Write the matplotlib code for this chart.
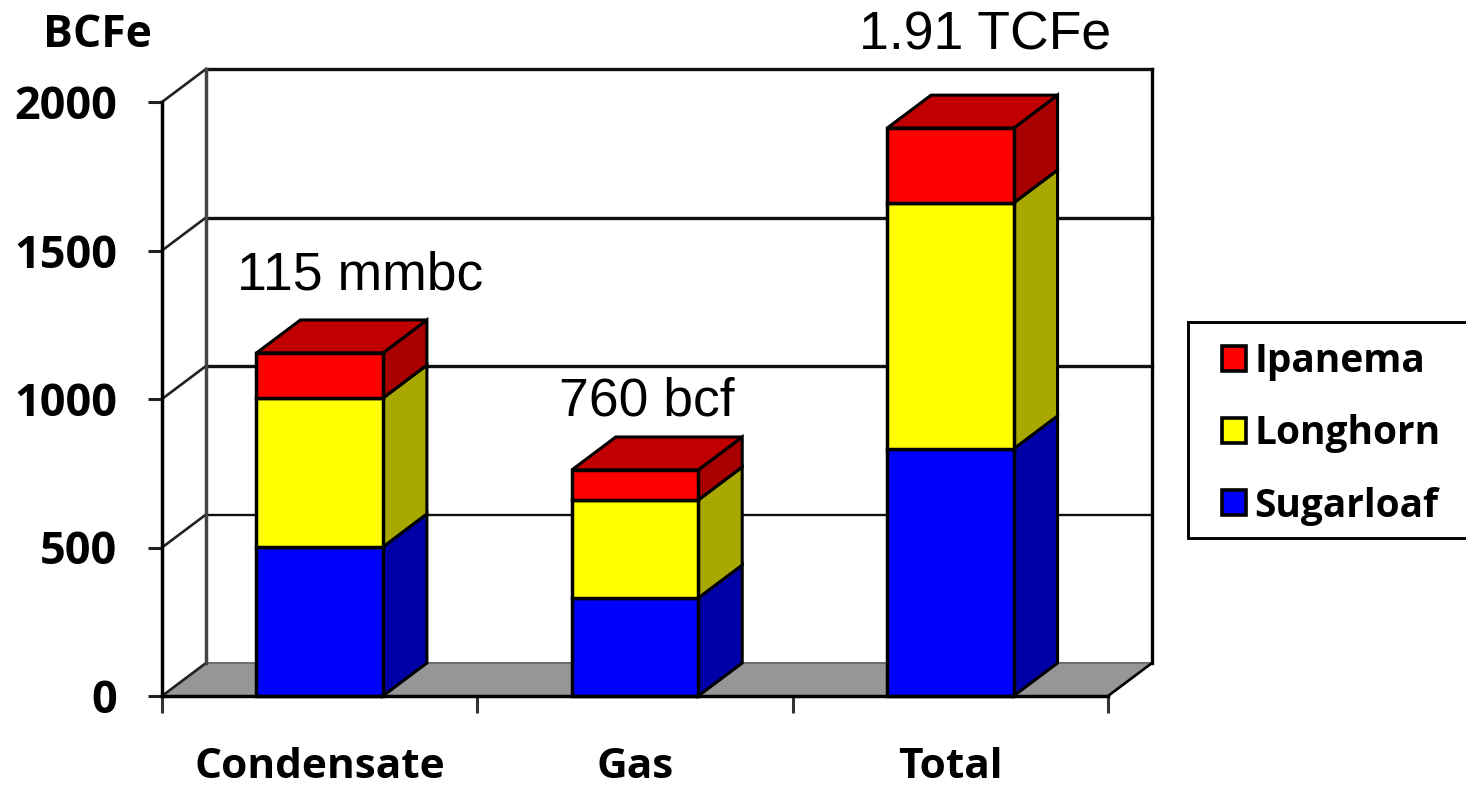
import numpy as np
import matplotlib
matplotlib.use('Agg')
import matplotlib.pyplot as plt
from matplotlib.patches import Polygon, Patch, Rectangle

categories = ['Condensate', 'Gas', 'Total']
sugarloaf = [502, 330, 832]
longhorn = [501, 330, 828]
ipanema = [152, 101, 252]
series_names = ['Sugarloaf', 'Longhorn', 'Ipanema']
yticks = [0, 500, 1000, 1500, 2000]
notes = ['115 mmbc', '760 bcf', '1.91 TCFe']

W, H = 1466, 786
BOLD = 'Open Sans'
front = ['#0000ff', '#ffff00', '#ff0000']
side = ['#0000a8', '#a8a800', '#a80000']
top_col = '#c00000'

# depth of the fake 3d box, in data units (44px across, 33px up)
dx = 44 / 315.33
dy = 33 / 0.297
bw = 0.401

fig = plt.figure(figsize=(W / 100, H / 100), dpi=100)
ax = fig.add_axes([162 / W, 1 - 696 / H, 946 / W, 594 / H])
ax.set_xlim(0, 3)
ax.set_ylim(0, 2000)
for s in ['top', 'right']:
    ax.spines[s].set_visible(False)
for s in ['left', 'bottom']:
    ax.spines[s].set_linewidth(2.5)
    ax.spines[s].set_zorder(6)

# floor and back wall
ax.add_patch(Polygon([(0, 0), (3, 0), (3 + dx, dy), (dx, dy)], closed=True, fc='#969696', ec='none', zorder=1, clip_on=False))
for v in yticks:
    if v == 0:
        ax.plot([dx, 3 + dx], [v + dy, v + dy], color='#6e6e6e', lw=1.5, zorder=2, clip_on=False)
    else:
        ax.plot([dx, 3 + dx], [v + dy, v + dy], color='#111111', lw=1.7 if v == 500 else 2.4, zorder=2, clip_on=False)
    ax.plot([0, dx], [v, v + dy], color='#222222', lw=1.9, zorder=2, clip_on=False)
ax.plot([dx, dx], [dy, 2000 + dy], color='#444444', lw=2.5, zorder=2, clip_on=False)
ax.plot([3 + dx, 3 + dx], [dy, 2000 + dy], color='black', lw=2.4, zorder=2, clip_on=False)
ax.plot([3, 3 + dx], [0, dy], color='black', lw=1.9, zorder=2, clip_on=False)

# bars
x = np.arange(3) + 0.5
bottom = np.zeros(3)
for k, vals in enumerate([sugarloaf, longhorn, ipanema]):
    vals = np.array(vals)
    ax.bar(x, vals, bw, bottom=bottom, color=front[k], edgecolor='black', linewidth=2.5, zorder=4, clip_on=False)
    for i in range(3):
        r = x[i] + bw / 2
        y0, y1 = bottom[i], bottom[i] + vals[i]
        ax.add_patch(Polygon([(r, y0), (r + dx, y0 + dy), (r + dx, y1 + dy), (r, y1)], closed=True,
                             fc=side[k], ec='black', lw=2.2, zorder=3, clip_on=False))
    bottom = bottom + vals
for i in range(3):
    l, r = x[i] - bw / 2, x[i] + bw / 2
    t = bottom[i]
    ax.add_patch(Polygon([(l, t), (r, t), (r + dx, t + dy), (l + dx, t + dy)], closed=True,
                         fc=top_col, ec='black', lw=2.2, zorder=3, clip_on=False))

# ticks
ax.set_yticks(yticks)
ax.set_yticklabels([str(v) for v in yticks], fontfamily=BOLD, fontweight='bold', fontsize=32.5)
ax.tick_params(axis='y', length=10, width=2.2, pad=22, color='#222222')
ax.set_xticks([0, 1, 2, 3])
ax.set_xticklabels([])
ax.tick_params(axis='x', which='major', length=12, width=2.2, color='#333333')
ax.set_xticks(x, minor=True)
ax.set_xticklabels(categories, minor=True, fontfamily=BOLD, fontweight='bold', fontsize=30.5)
ax.tick_params(axis='x', which='minor', length=0, pad=37)

fig.text(97 / W, 1 - 47 / H, 'BCFe', ha='center', va='baseline', fontfamily=BOLD, fontweight='bold', fontsize=32)

# labels above the bars
note_pos = [(360, 290), (647, 415), (985, 50)]
for n, (px, py) in zip(notes, note_pos):
    fig.text(px / W, 1 - py / H, n, ha='center', va='baseline', fontfamily='Liberation Sans', fontsize=38.5)

# legend, box runs off the right edge of the picture
fig.add_artist(Rectangle((1188 / W, 1 - 538 / H), 300 / W, 216 / H, transform=fig.transFigure,
                         fc='white', ec='black', lw=2.1))
handles = [Patch(fc=front[k], ec='black', lw=2.6) for k in [2, 1, 0]]
labels = [series_names[k] for k in [2, 1, 0]]
leg = fig.legend(handles, labels, loc='center left', bbox_to_anchor=(1222 / W, 1 - 434 / H), frameon=False,
                 borderpad=0, borderaxespad=0, handlelength=0.62, handleheight=0.62, handletextpad=0.22,
                 labelspacing=0.85, prop={'family': BOLD, 'weight': 'bold', 'size': 28})

fig.savefig('out.png', dpi=100)
